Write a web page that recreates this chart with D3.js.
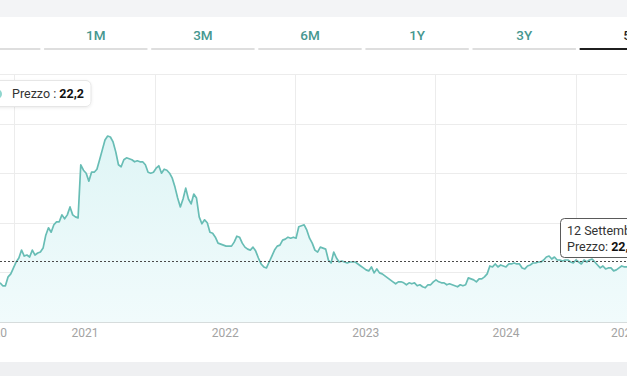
<!DOCTYPE html>
<html>
<head>
<meta charset="utf-8">
<script src="https://cdnjs.cloudflare.com/ajax/libs/d3/7.8.5/d3.min.js"></script>
<style>
  html, body { margin: 0; padding: 0; background: #ffffff; overflow: hidden; }
  svg { display: block; font-family: Roboto, "Noto Sans", sans-serif; }
</style>
</head>
<body>
<svg id="chart" width="627" height="376"></svg>
<script>
// ---------------- data ----------------
const tabs = ["1M", "3M", "6M", "1Y", "3Y", "5Y"];
const activeTab = "5Y";
const seriesStart = "2020-05-25";   // weekly closes from this date
const stepDays = 7;
const prices = [
  17.9, 17.3, 17.3, 19.1, 19.7, 20.9, 22.1, 22.9, 24.5, 23.3,
  23.5, 23.1, 24.5, 23.5, 23.9, 24.1, 24.9, 27.5, 29.0, 28.1,
  29.6, 30.2, 30.2, 31.6, 30.8, 31.6, 33.2, 31.6, 31.2, 31.0,
  41.7, 40.6, 40.0, 38.4, 40.2, 40.2, 40.8, 42.7, 44.7, 46.7,
  47.5, 47.3, 46.3, 44.3, 41.7, 41.3, 42.7, 43.1, 42.9, 42.7,
  42.3, 42.5, 42.3, 42.3, 41.7, 40.2, 40.0, 40.2, 41.0, 41.5,
  40.0, 40.8, 40.6, 40.0, 39.0, 37.2, 35.0, 33.2, 34.8, 37.0,
  34.8, 33.8, 35.8, 35.0, 31.2, 29.8, 30.6, 30.0, 28.1, 27.9,
  27.1, 25.9, 25.7, 25.5, 25.3, 25.3, 25.3, 26.1, 27.3, 27.1,
  25.9, 25.1, 24.7, 24.5, 25.1, 24.3, 22.9, 21.7, 21.1, 20.9,
  22.1, 23.3, 24.5, 25.3, 25.5, 26.5, 26.7, 27.1, 26.9, 27.1,
  26.9, 29.2, 29.4, 29.6, 28.5, 26.9, 25.9, 24.5, 24.1, 25.1,
  24.9, 24.7, 22.5, 21.9, 24.1, 22.9, 22.1, 22.3, 22.1, 21.9,
  22.1, 22.1, 22.1, 21.7, 21.3, 20.9, 20.5, 20.3, 21.1, 19.9,
  20.7, 19.9, 19.7, 19.3, 18.9, 18.5, 18.1, 17.7, 18.1, 18.1,
  17.9, 17.5, 17.9, 17.7, 17.9, 17.3, 17.5, 17.1, 16.9, 17.5,
  17.5, 18.1, 18.5, 18.1, 17.9, 17.9, 17.5, 17.7, 17.5, 17.3,
  17.1, 17.5, 17.3, 17.5, 18.9, 18.7, 18.5, 18.1, 18.7, 18.7,
  19.1, 19.7, 21.3, 21.1, 21.7, 21.1, 21.5, 21.3, 21.1, 21.7,
  21.7, 21.9, 21.7, 21.7, 20.9, 20.7, 21.3, 21.5, 21.9, 21.9,
  22.1, 22.1, 22.5, 23.1, 23.3, 22.7, 23.1, 22.5, 22.5, 22.3,
  22.5, 22.5, 22.1, 21.9, 22.5, 22.1, 21.7, 22.5, 22.1, 22.5,
  22.7, 22.1, 21.5, 20.9, 21.3, 20.7, 20.9, 20.9, 20.3, 20.5,
  20.9, 21.3, 21.1, 21.1, 21.3, 21.5, 21.7, 22.2
];
const lastPrice = 22.2;
const lastPriceLabel = "22,2";
const seriesName = "Prezzo";
const tooltipDate = "12 Settembre 2025";
const yearTicks = ["2020-01-01", "2021-01-01", "2022-01-01", "2023-01-01", "2024-01-01", "2025-01-01"];
const gridDates = ["2020-07-01", "2021-07-01", "2022-07-01", "2023-07-01", "2024-07-01"];
const yTicks = [20, 30, 40, 50, 60];
const yDomain = [10, 60];

// ---------------- layout ----------------
const W = 627, H = 376;
const plot = { left: -20, right: 638, top: 74, bottom: 322 };
const parse = d3.timeParse("%Y-%m-%d");
const start = parse(seriesStart);
const data = prices.map((v, i) => ({ date: d3.timeDay.offset(start, i * stepDays), value: v }));

const svg = d3.select("#chart");

// page chrome
svg.append("rect").attr("x", 0).attr("y", 0).attr("width", W).attr("height", 17).attr("fill", "#f3f4f6");
svg.append("rect").attr("x", 0).attr("y", 362).attr("width", W).attr("height", 14).attr("fill", "#eff0f2");

// tabs (one more tab sits off-screen to the left; only its underline is visible)
const tabScale = d3.scaleBand().domain(["_first"].concat(tabs)).range([-63, 683]).paddingInner(0.035);
const tabG = svg.append("g");
tabG.selectAll("line").data(tabScale.domain()).join("line")
  .attr("x1", d => tabScale(d)).attr("x2", d => tabScale(d) + tabScale.bandwidth())
  .attr("y1", 49).attr("y2", 49)
  .attr("stroke", d => d === activeTab ? "#1f1f1f" : "#dedede")
  .attr("stroke-width", 2);
tabG.selectAll("text").data(tabs).join("text")
  .attr("x", d => tabScale(d) + tabScale.bandwidth() / 2)
  .attr("y", 40)
  .attr("text-anchor", "middle")
  .attr("font-size", 13.5)
  .attr("font-weight", 500)
  .attr("fill", d => d === activeTab ? "#222" : "#46978f")
  .text(d => d);

// scales
const x = d3.scaleTime()
  .domain([parse("2021-01-01"), parse("2024-01-01")])
  .range([85, 506]);
const y = d3.scaleLinear().domain(yDomain).range([plot.bottom, plot.top]);

// gridlines
const grid = svg.append("g").attr("stroke", "#ececec").attr("stroke-width", 1);
grid.selectAll(".h").data(yTicks).join("line").attr("class", "h")
  .attr("x1", plot.left).attr("x2", plot.right)
  .attr("y1", d => Math.round(y(d)) + 0.5).attr("y2", d => Math.round(y(d)) + 0.5);
grid.selectAll(".v").data(gridDates.map(parse)).join("line").attr("class", "v")
  .attr("x1", d => Math.round(x(d)) + 0.5).attr("x2", d => Math.round(x(d)) + 0.5)
  .attr("y1", plot.top).attr("y2", plot.bottom);

// area gradient
const defs = svg.append("defs");
const grad = defs.append("linearGradient").attr("id", "fillGrad")
  .attr("gradientUnits", "userSpaceOnUse")
  .attr("x1", 0).attr("x2", 0).attr("y1", plot.top).attr("y2", plot.bottom);
grad.append("stop").attr("offset", "0%").attr("stop-color", "#d9f3f3");
grad.append("stop").attr("offset", "100%").attr("stop-color", "#f1fbfc");

const shadow = defs.append("filter").attr("id", "shadow").attr("x", "-20%").attr("y", "-40%").attr("width", "140%").attr("height", "180%");
shadow.append("feDropShadow").attr("dx", 0).attr("dy", 1).attr("stdDeviation", 1.5).attr("flood-color", "#000").attr("flood-opacity", 0.08);

svg.append("path").datum(data)
  .attr("fill", "url(#fillGrad)")
  .attr("d", d3.area().x(d => x(d.date)).y0(plot.bottom).y1(d => y(d.value)));

// x axis baseline
svg.append("line").attr("x1", plot.left).attr("x2", plot.right)
  .attr("y1", plot.bottom + 0.5).attr("y2", plot.bottom + 0.5)
  .attr("stroke", "#d6dcdc").attr("stroke-width", 1);

// line
svg.append("path").datum(data)
  .attr("fill", "none")
  .attr("stroke", "#68bdb5")
  .attr("stroke-width", 1.7)
  .attr("stroke-linejoin", "round")
  .attr("d", d3.line().x(d => x(d.date)).y(d => y(d.value)));

// last price dashed line
svg.append("line").attr("x1", plot.left).attr("x2", plot.right)
  .attr("y1", Math.round(y(lastPrice)) + 0.5).attr("y2", Math.round(y(lastPrice)) + 0.5)
  .attr("stroke", "#4a4a4a").attr("stroke-width", 1).attr("stroke-dasharray", "2,2");

// year labels (clamped inside plot like the source library)
const yl = svg.append("g");
yearTicks.map(parse).forEach(d => {
  const t = yl.append("text")
    .attr("y", 337).attr("text-anchor", "middle")
    .attr("font-size", 12).attr("fill", "#a3a3a3")
    .text(d3.timeFormat("%Y")(d));
  const w = t.node().getComputedTextLength();
  let cx = x(d);
  cx = Math.max(plot.left + w / 2, Math.min(plot.right - w / 2, cx));
  t.attr("x", cx);
});

// legend box
const lg = svg.append("g");
lg.append("rect").attr("x", -20).attr("y", 80.5).attr("width", 111).attr("height", 26).attr("rx", 5)
  .attr("fill", "#fff").attr("stroke", "#e6e6e6").attr("filter", "url(#shadow)");
lg.append("circle").attr("cx", -3).attr("cy", 94).attr("r", 5).attr("fill", "#8fd6ce");
const lt = lg.append("text").attr("x", 12).attr("y", 98).attr("font-size", 12.5).attr("fill", "#333");
lt.append("tspan").text(seriesName + " : ");
lt.append("tspan").attr("font-weight", 700).attr("fill", "#111").text(lastPriceLabel);

// tooltip
const tt = svg.append("g");
tt.append("rect").attr("x", 560.5).attr("y", 218.5).attr("width", 120).attr("height", 39).attr("rx", 4)
  .attr("fill", "#fff").attr("stroke", "#5a5a5a").attr("stroke-width", 1);
tt.append("text").attr("x", 567).attr("y", 235).attr("font-size", 12.5).attr("fill", "#333").text(tooltipDate);
const t2 = tt.append("text").attr("x", 567).attr("y", 251).attr("font-size", 12.5).attr("fill", "#333");
t2.append("tspan").text(seriesName + ": ");
t2.append("tspan").attr("font-weight", 700).attr("fill", "#111").text(lastPriceLabel);
</script>
</body>
</html>
